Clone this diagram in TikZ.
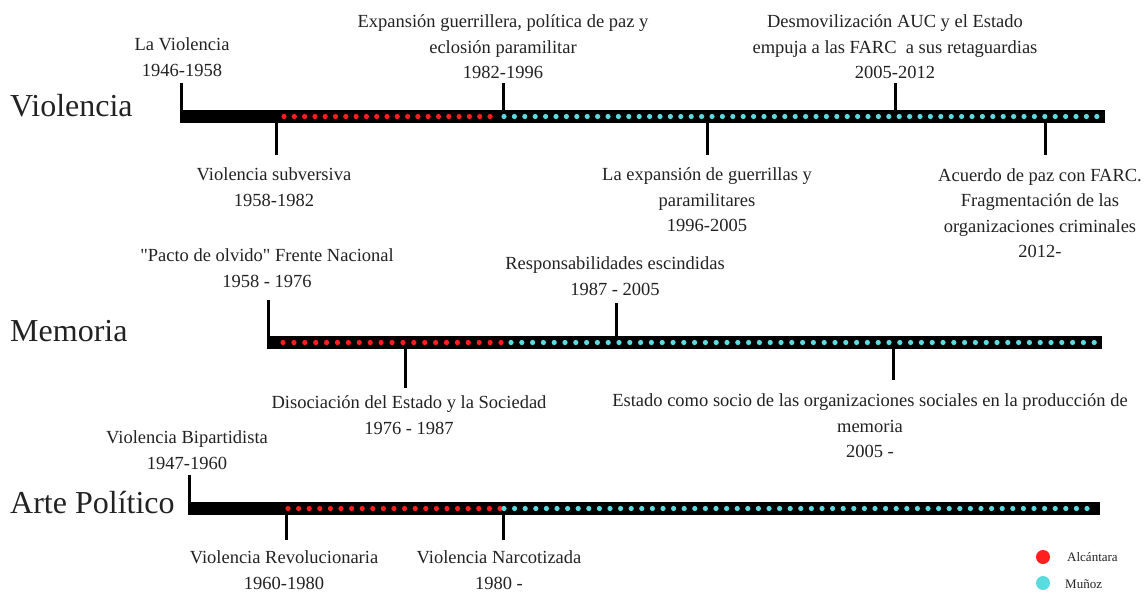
\documentclass[tikz,border=0pt]{standalone}
\usepackage{fontspec}
\setmainfont{Liberation Serif}
\newfontfamily\qfont{Liberation Serif}
\definecolor{dotred}{HTML}{FF1F1F}
\definecolor{dotcyan}{HTML}{5ADBE0}
\definecolor{txt}{HTML}{222222}
\begin{document}
\begin{tikzpicture}[x=1pt,y=-1pt,
 lbl/.style={align=center, font=\fontsize{18.5}{25.5}\selectfont, text=txt, inner sep=0pt},
 ttl/.style={anchor=west, font=\fontsize{32}{36}\selectfont, text=txt, inner sep=0pt},
 tick/.style={line width=3pt, black},
 rdot/.style={fill=dotred},
 cdot/.style={fill=dotcyan},
 leg/.style={anchor=west, font=\fontsize{13}{15}\selectfont, text=txt, inner sep=0pt}]
\useasboundingbox (0,0) rectangle (1145,592);

% ---------------- Violencia ----------------
\node[ttl] (tv) at (10,106) {Violencia};
\fill[black] (180,110) rectangle (1105,123);
\foreach \i in {0,...,20} \fill[rdot] ({284+\i*10.3},116.5) circle (2.6pt);
\foreach \i in {0,...,57} \fill[cdot] ({504+\i*10.4},116.5) circle (2.6pt);

\node[lbl] (lv) at (182,57) {La Violencia\\1946-1958};
\node[lbl] (exp) at (503,47) {Expansión guerrillera, política de paz y\\eclosión paramilitar\\1982-1996};
\node[lbl] (des) at (895,47) {Desmovilización AUC y el Estado\\empuja a las FARC~ a sus retaguardias\\2005-2012};
\node[lbl] (vs) at (274,187) {Violencia subversiva\\1958-1982};
\node[lbl] (lae) at (707,200) {La expansión de guerrillas y\\paramilitares\\1996-2005};
\node[lbl] (acu) at (1040,213) {Acuerdo de paz con FARC.\\Fragmentación de las\\organizaciones criminales\\2012-};

\coordinate (a1) at (181.5,83);  \coordinate (b1) at (181.5,111);
\coordinate (a2) at (503,83);    \coordinate (b2) at (503,111);
\coordinate (a3) at (895,83);    \coordinate (b3) at (895,111);
\coordinate (a4) at (276,122);   \coordinate (b4) at (276,155);
\coordinate (a5) at (707,122);   \coordinate (b5) at (707,155);
\coordinate (a6) at (1045,122);  \coordinate (b6) at (1045,155);
\foreach \k in {1,...,6} \draw[tick] (a\k) -- (b\k);

% ---------------- Memoria ----------------
\node[ttl] (tm) at (10,331) {Memoria};
\fill[black] (267,336) rectangle (1102,349);
\foreach \i in {0,...,20} \fill[rdot] ({283+\i*10.9},342.5) circle (2.6pt);
\foreach \i in {0,...,54} \fill[cdot] ({511+\i*10.8},342.5) circle (2.6pt);

\node[lbl] (pacto) at (267,268) {{\qfont"}Pacto de olvido{\qfont"} Frente Nacional\\1958 - 1976};
\node[lbl] (resp) at (615,276) {Responsabilidades escindidas\\1987 - 2005};
\node[lbl] (diso) at (409,415) {Disociación del Estado y la Sociedad\\1976 - 1987};
\node[lbl] (estado) at (870,426) {Estado como socio de las organizaciones sociales en la producción de\\memoria\\2005 -};

\coordinate (m1) at (268.5,300); \coordinate (n1) at (268.5,337);
\coordinate (m2) at (616,303);   \coordinate (n2) at (616,337);
\coordinate (m3) at (405,348);   \coordinate (n3) at (405,388);
\coordinate (m4) at (893,348);   \coordinate (n4) at (893,380);
\foreach \k in {1,...,4} \draw[tick] (m\k) -- (n\k);

% ---------------- Arte Político ----------------
\node[ttl] (ta) at (10,503) {Arte Político};
\fill[black] (188,502) rectangle (1100,515);
\foreach \i in {0,...,20} \fill[rdot] ({288+\i*10.6},508.5) circle (2.6pt);
\foreach \i in {0,...,55} \fill[cdot] ({504+\i*10.6},508.5) circle (2.6pt);

\node[lbl] (vb) at (187,450) {Violencia Bipartidista\\1947-1960};
\node[lbl] (vr) at (284,570) {Violencia Revolucionaria\\1960-1980};
\node[lbl] (vn) at (499,570) {Violencia Narcotizada\\1980 -};

\coordinate (p1) at (189.5,475); \coordinate (q1) at (189.5,503);
\coordinate (p2) at (286,514);   \coordinate (q2) at (286,540);
\coordinate (p3) at (503,514);   \coordinate (q3) at (503,540);
\foreach \k in {1,...,3} \draw[tick] (p\k) -- (q\k);

% ---------------- Legend ----------------
\fill[dotred] (1043,557) circle (7pt);
\fill[dotcyan] (1043,583) circle (7pt);
\node[leg] (la) at (1067,557) {Alcántara};
\node[leg] (lm) at (1065,584) {Muñoz};
\end{tikzpicture}
\end{document}
